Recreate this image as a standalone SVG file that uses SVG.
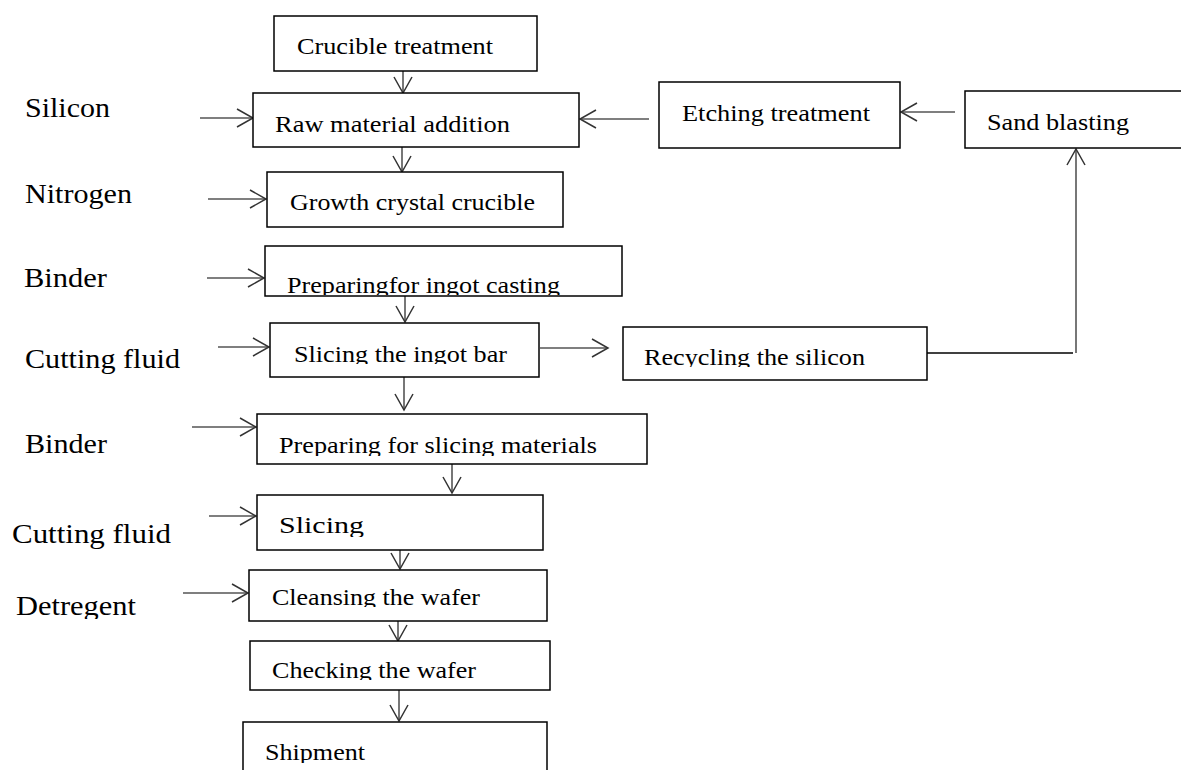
<svg xmlns="http://www.w3.org/2000/svg" width="1181" height="770" viewBox="0 0 1181 770">
<style>
.box{fill:#fff;stroke:#000;stroke-width:1.5}
.t{font-family:"Liberation Serif","Times New Roman",serif;font-size:23px;fill:#000}
.lbl{font-family:"Liberation Serif","Times New Roman",serif;font-size:27px;fill:#000}
.c{fill:none;stroke:#555;stroke-width:1.6}
.cb{fill:none;stroke:#000;stroke-width:1.3}
</style>
<defs>
<marker id="ah" markerUnits="userSpaceOnUse" markerWidth="20" markerHeight="22" refX="17" refY="10" orient="auto">
<path d="M1,1 L17,10 L1,19" fill="none" stroke="#333" stroke-width="1.5"/>
</marker>
<clipPath id="k1" clipPathUnits="userSpaceOnUse"><rect x="0" y="0" width="1181" height="295"/></clipPath>
<clipPath id="k2" clipPathUnits="userSpaceOnUse"><rect x="0" y="0" width="1181" height="364"/></clipPath>
<clipPath id="k3" clipPathUnits="userSpaceOnUse"><rect x="0" y="0" width="1181" height="367"/></clipPath>
<clipPath id="k4" clipPathUnits="userSpaceOnUse"><rect x="0" y="0" width="1181" height="456"/></clipPath>
<clipPath id="k5" clipPathUnits="userSpaceOnUse"><rect x="0" y="0" width="1181" height="537"/></clipPath>
<clipPath id="k6" clipPathUnits="userSpaceOnUse"><rect x="0" y="0" width="1181" height="607"/></clipPath>
<clipPath id="k7" clipPathUnits="userSpaceOnUse"><rect x="0" y="0" width="1181" height="680"/></clipPath>
<clipPath id="k8" clipPathUnits="userSpaceOnUse"><rect x="0" y="0" width="1181" height="763"/></clipPath>
<clipPath id="k9" clipPathUnits="userSpaceOnUse"><rect x="0" y="0" width="1181" height="619"/></clipPath>
</defs>
<rect width="1181" height="770" fill="#fff"/>

<g id="connectors">
<line class="c" x1="403" y1="71" x2="403" y2="93" marker-end="url(#ah)"/>
<line class="c" x1="402" y1="147" x2="402" y2="172" marker-end="url(#ah)"/>
<line class="c" x1="405" y1="296" x2="405" y2="322" marker-end="url(#ah)"/>
<line class="c" x1="540" y1="348" x2="608" y2="348" marker-end="url(#ah)"/>
<line class="c" x1="404" y1="377" x2="404" y2="410" marker-end="url(#ah)"/>
<line class="c" x1="452" y1="464" x2="452" y2="493" marker-end="url(#ah)"/>
<line class="c" x1="400" y1="550" x2="400" y2="569" marker-end="url(#ah)"/>
<line class="c" x1="398" y1="621" x2="398" y2="641" marker-end="url(#ah)"/>
<line class="c" x1="399" y1="690" x2="399" y2="721" marker-end="url(#ah)"/>
<line class="c" x1="649" y1="119" x2="580" y2="119" marker-end="url(#ah)"/>
<line class="c" x1="955" y1="112" x2="901" y2="112" marker-end="url(#ah)"/>
<line class="cb" x1="927" y1="353" x2="1073" y2="353"/>
<line class="c" x1="1076" y1="353" x2="1076" y2="149" marker-end="url(#ah)"/>
<line class="c" x1="200" y1="118" x2="253" y2="118" marker-end="url(#ah)"/>
<line class="c" x1="208" y1="199" x2="266" y2="199" marker-end="url(#ah)"/>
<line class="c" x1="207" y1="278" x2="264" y2="278" marker-end="url(#ah)"/>
<line class="c" x1="218" y1="347" x2="269" y2="347" marker-end="url(#ah)"/>
<line class="c" x1="192" y1="427" x2="256" y2="427" marker-end="url(#ah)"/>
<line class="c" x1="209" y1="516" x2="256" y2="516" marker-end="url(#ah)"/>
<line class="c" x1="183" y1="593" x2="248" y2="593" marker-end="url(#ah)"/>
</g>

<g id="labels">
<text class="lbl" x="25" y="117" textLength="85" lengthAdjust="spacingAndGlyphs">Silicon</text>
<text class="lbl" x="25" y="203" textLength="107" lengthAdjust="spacingAndGlyphs">Nitrogen</text>
<text class="lbl" x="24" y="287" textLength="83" lengthAdjust="spacingAndGlyphs">Binder</text>
<text class="lbl" x="25" y="368" textLength="155" lengthAdjust="spacingAndGlyphs">Cutting fluid</text>
<text class="lbl" x="25" y="453" textLength="82" lengthAdjust="spacingAndGlyphs">Binder</text>
<text class="lbl" x="12" y="543" textLength="159" lengthAdjust="spacingAndGlyphs">Cutting fluid</text>
<text class="lbl" x="16" y="615" textLength="120" lengthAdjust="spacingAndGlyphs" clip-path="url(#k9)">Detregent</text>
</g>

<g id="crucible">
<rect class="box" x="274" y="16" width="263" height="55"/>
<text class="t" x="297" y="54" textLength="196" lengthAdjust="spacingAndGlyphs">Crucible treatment</text>
</g>
<g id="raw">
<rect class="box" x="253" y="93" width="326" height="54"/>
<text class="t" x="275" y="132" textLength="235" lengthAdjust="spacingAndGlyphs">Raw material addition</text>
</g>
<g id="growth">
<rect class="box" x="267" y="172" width="296" height="55"/>
<text class="t" x="290" y="210" textLength="245" lengthAdjust="spacingAndGlyphs">Growth crystal crucible</text>
</g>
<g id="prepIngot">
<rect class="box" x="265" y="246" width="357" height="50"/>
<text class="t" x="287" y="293" textLength="273" lengthAdjust="spacingAndGlyphs" clip-path="url(#k1)">Preparingfor ingot casting</text>
</g>
<g id="slicingIngot">
<rect class="box" x="270" y="323" width="269" height="54"/>
<text class="t" x="294" y="362" textLength="213" lengthAdjust="spacingAndGlyphs" clip-path="url(#k2)">Slicing the ingot bar</text>
</g>
<g id="recycling">
<rect class="box" x="623" y="327" width="304" height="53"/>
<text class="t" x="644" y="365" textLength="221" lengthAdjust="spacingAndGlyphs" clip-path="url(#k3)">Recycling the silicon</text>
</g>
<g id="prepSlicing">
<rect class="box" x="257" y="414" width="390" height="50"/>
<text class="t" x="279" y="453" textLength="318" lengthAdjust="spacingAndGlyphs" clip-path="url(#k4)">Preparing for slicing materials</text>
</g>
<g id="slicing">
<rect class="box" x="257" y="495" width="286" height="55"/>
<text class="t" x="279" y="533" textLength="85" lengthAdjust="spacingAndGlyphs" clip-path="url(#k5)">Slicing</text>
</g>
<g id="cleansing">
<rect class="box" x="249" y="570" width="298" height="51"/>
<text class="t" x="272" y="605" textLength="208" lengthAdjust="spacingAndGlyphs" clip-path="url(#k6)">Cleansing the wafer</text>
</g>
<g id="checking">
<rect class="box" x="250" y="641" width="300" height="49"/>
<text class="t" x="272" y="678" textLength="204" lengthAdjust="spacingAndGlyphs" clip-path="url(#k7)">Checking the wafer</text>
</g>
<g id="shipment">
<rect class="box" x="243" y="722" width="304" height="60"/>
<text class="t" x="265" y="760" textLength="100" lengthAdjust="spacingAndGlyphs" clip-path="url(#k8)">Shipment</text>
</g>
<g id="etching">
<rect class="box" x="659" y="82" width="241" height="66"/>
<text class="t" x="682" y="121" textLength="188" lengthAdjust="spacingAndGlyphs">Etching treatment</text>
</g>
<g id="sand">
<rect class="box" x="965" y="91" width="225" height="57"/>
<text class="t" x="987" y="130" textLength="142" lengthAdjust="spacingAndGlyphs">Sand blasting</text>
</g>
</svg>
